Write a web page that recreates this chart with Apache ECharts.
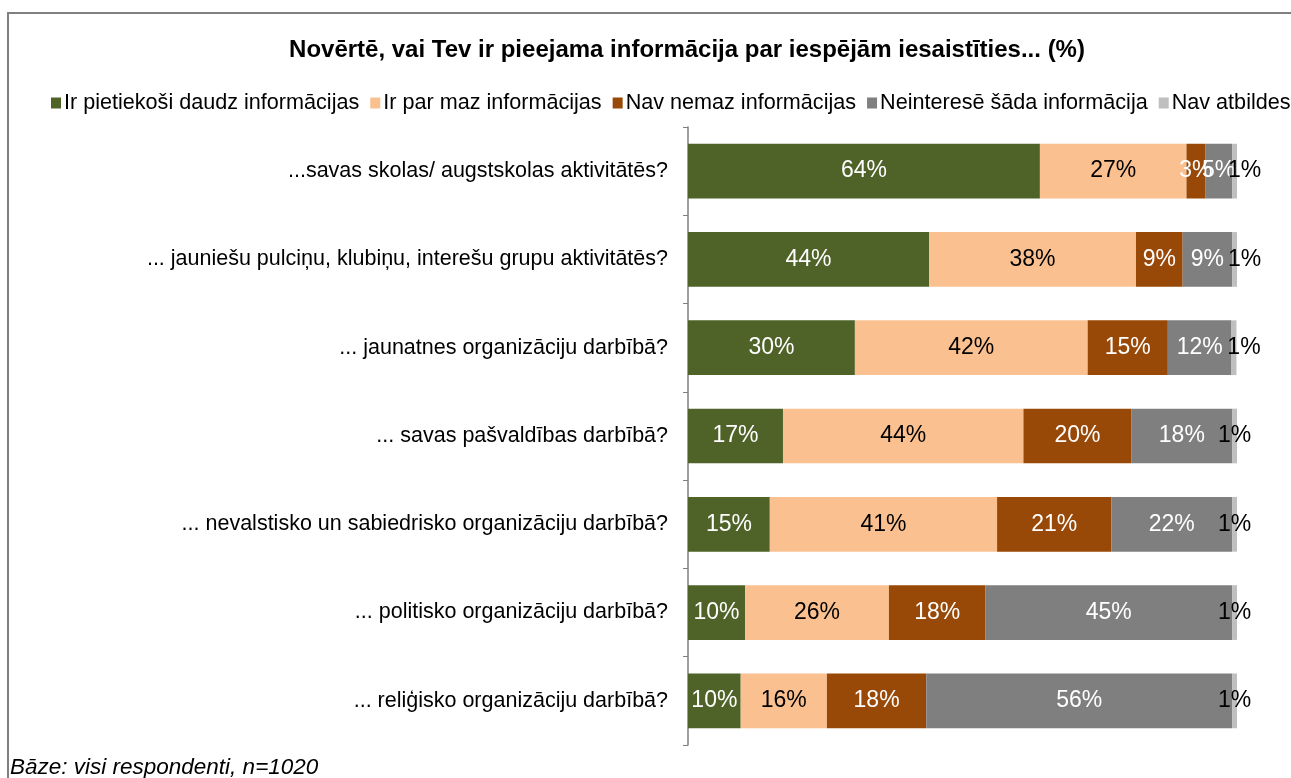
<!DOCTYPE html>
<html>
<head>
<meta charset="utf-8">
<script src="https://cdn.jsdelivr.net/npm/echarts@6/dist/echarts.min.js"></script>
<style>
  html, body { margin: 0; padding: 0; background: #fff; }
  #chart { width: 1291px; height: 778px; }
</style>
</head>
<body>
<div id="chart"></div>
<script>
const categories = [
  "...savas skolas/ augstskolas aktivitātēs?",
  "... jauniešu pulciņu, klubiņu, interešu grupu aktivitātēs?",
  "... jaunatnes organizāciju darbībā?",
  "... savas pašvaldības darbībā?",
  "... nevalstisko un sabiedrisko organizāciju darbībā?",
  "... politisko organizāciju darbībā?",
  "... reliģisko organizāciju darbībā?"
]
const seriesNames = [
  "Ir pietiekoši daudz informācijas",
  "Ir par maz informācijas",
  "Nav nemaz informācijas",
  "Neinteresē šāda informācija",
  "Nav atbildes"
]
const enough = [64.1, 43.9, 30.4, 17.3, 14.9, 10.4, 9.6]
const tooLittle = [26.7, 37.7, 42.4, 43.8, 41.4, 26.2, 15.7]
const none = [3.4, 8.5, 14.6, 19.7, 20.8, 17.6, 18.1]
const notInterested = [4.9, 9.0, 11.6, 18.3, 22.0, 44.9, 55.7]
const noAnswer = [0.9, 0.9, 0.9, 0.9, 0.9, 0.9, 0.9]

const colors = ["#4F6228", "#FAC090", "#984807", "#7F7F7F", "#BFBFBF"]
const labelColors = ["#fff", "#000", "#fff", "#fff", "#000"]

const myChart = echarts.init(document.getElementById("chart"))

const makeSeries = (name, values, i) => ({
  name: name,
  type: "bar",
  stack: "total",
  barCategoryGap: "38%",
  itemStyle: { color: colors[i] },
  label: {
    show: true,
    position: "inside",
    color: labelColors[i],
    fontFamily: "Liberation Sans",
    fontSize: 23,
    formatter: (p) => Math.round(p.value) + "%"
  },
  // last segment label is nudged right when the grey one is narrow
  data: values.map((v, k) => {
    if (i === 4 && notInterested[k] < 13) {
      return { value: v, label: { offset: [10, 0] } }
    }
    return v
  })
})

const option = {
  animation: false,
  color: colors,
  graphic: [
    {
      type: "rect",
      shape: { x: 8, y: 13, width: 1400, height: 900 },
      style: { fill: "none", stroke: "#808080", lineWidth: 2 }
    },
    {
      type: "text",
      left: 10,
      top: 756,
      style: {
        text: "Bāze: visi respondenti, n=1020",
        fontFamily: "Liberation Sans",
        fontStyle: "italic",
        fontSize: 22.5,
        fill: "#000"
      }
    }
  ],
  title: {
    text: "Novērtē, vai Tev ir pieejama informācija par iespējām iesaistīties... (%)",
    left: 682,
    textAlign: "center",
    top: 33,
    textStyle: {
      fontFamily: "Liberation Sans",
      fontWeight: "bold",
      fontSize: 24,
      color: "#000"
    }
  },
  legend: {
    top: 92,
    left: 51,
    width: 1300,
    padding: 0,
    icon: "rect",
    itemWidth: 10,
    itemHeight: 11,
    itemGap: 11,
    textStyle: {
      fontFamily: "Liberation Sans",
      fontSize: 21.6,
      color: "#000",
      padding: [0, 0, 0, -2]
    },
    data: seriesNames
  },
  grid: {
    left: 688,
    right: 54,
    top: 127,
    bottom: 33
  },
  xAxis: {
    type: "value",
    min: 0,
    max: 100,
    show: false
  },
  yAxis: {
    type: "category",
    inverse: true,
    data: categories,
    axisLine: { show: true, lineStyle: { color: "#808080", width: 1.5 } },
    axisTick: { show: true, length: 5, lineStyle: { color: "#808080" } },
    axisLabel: {
      margin: 20,
      fontFamily: "Liberation Sans",
      fontSize: 21.5,
      color: "#000"
    }
  },
  series: [
    makeSeries(seriesNames[0], enough, 0),
    makeSeries(seriesNames[1], tooLittle, 1),
    makeSeries(seriesNames[2], none, 2),
    makeSeries(seriesNames[3], notInterested, 3),
    makeSeries(seriesNames[4], noAnswer, 4)
  ]
}

myChart.setOption(option)
window.addEventListener("resize", () => {
  myChart.resize()
})
</script>
</body>
</html>
